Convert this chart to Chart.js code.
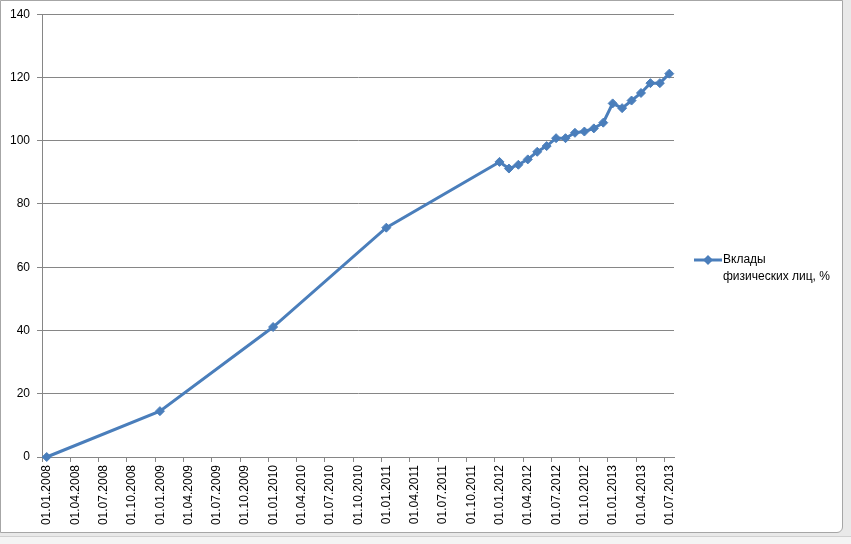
<!DOCTYPE html>
<html>
<head>
<meta charset="utf-8">
<script src="https://cdn.jsdelivr.net/npm/chart.js@4"></script>
<style>
  html, body { margin: 0; padding: 0; background: #ffffff; }
  #wrap { position: relative; width: 851px; height: 544px; background: #e9e9e9; overflow: hidden; }
  #frame { position: absolute; left: 0; top: 0; width: 841px; height: 531px; background: #fff;
           border: 1px solid #a6a6a6; border-radius: 0 0 6px 0; }
  #sheet { position: absolute; left: 0; top: 536px; width: 851px; height: 8px; background: #f4f4f4;
           border-top: 1px solid #d0d0d0; }
  canvas { position: absolute; left: 0; top: 0; }
</style>
</head>
<body>
<div id="wrap">
  <div id="sheet"></div>
  <div id="frame"></div>
  <canvas id="grafico" width="851" height="544"></canvas>
</div>
<script>
// Даты наблюдений и значения (вклады физических лиц, %)
var fechas = ['01.01.2008', '01.01.2009', '01.01.2010', '01.01.2011',
    '01.01.2012', '01.02.2012', '01.03.2012', '01.04.2012', '01.05.2012', '01.06.2012',
    '01.07.2012', '01.08.2012', '01.09.2012', '01.10.2012', '01.11.2012', '01.12.2012',
    '01.01.2013', '01.02.2013', '01.03.2013', '01.04.2013', '01.05.2013', '01.06.2013', '01.07.2013'];
var valores = [0, 14.5, 41.1, 72.5,
    93.3, 91.2, 92.4, 94.1, 96.5, 98.3,
    100.8, 100.8, 102.5, 102.9, 103.9, 105.7,
    111.8, 110.3, 112.7, 115.1, 118.2, 118.2, 121.2];
var etiquetasX = ['01.01.2008', '01.04.2008', '01.07.2008', '01.10.2008',
    '01.01.2009', '01.04.2009', '01.07.2009', '01.10.2009',
    '01.01.2010', '01.04.2010', '01.07.2010', '01.10.2010',
    '01.01.2011', '01.04.2011', '01.07.2011', '01.10.2011',
    '01.01.2012', '01.04.2012', '01.07.2012', '01.10.2012',
    '01.01.2013', '01.04.2013', '01.07.2013'];
var etiquetasY = [0, 20, 40, 60, 80, 100, 120, 140];
var nombreSerie = ['Вклады', 'физических лиц, %'];

var azul = '#4a7ebb';
var gris = '#868686';

// mes desde 01.2008
function mesIndice(f) {
    var p = f.split('.');
    return (parseInt(p[2], 10) - 2008) * 12 + parseInt(p[1], 10) - 1;
}

var puntos = fechas.map(function (f, i) { return { x: mesIndice(f), y: valores[i] }; });
var ultimoMes = mesIndice(etiquetasX[etiquetasX.length - 1]);

// leyenda a la derecha, en dos lineas
var leyenda = {
    id: 'leyenda',
    afterDraw: function (chart) {
        var ctx = chart.ctx;
        ctx.save();
        ctx.strokeStyle = azul;
        ctx.lineWidth = 3;
        ctx.beginPath();
        ctx.moveTo(694, 260);
        ctx.lineTo(722, 260);
        ctx.stroke();
        ctx.fillStyle = azul;
        ctx.beginPath();
        ctx.moveTo(708, 255);
        ctx.lineTo(713, 260);
        ctx.lineTo(708, 265);
        ctx.lineTo(703, 260);
        ctx.closePath();
        ctx.fill();
        ctx.fillStyle = '#000';
        ctx.font = '12px "Liberation Sans", Arial, sans-serif';
        ctx.textBaseline = 'middle';
        ctx.fillText(nombreSerie[0], 723, 260);
        ctx.fillText(nombreSerie[1], 723, 277);
        ctx.restore();
    }
};

Chart.defaults.font.family = '"Liberation Sans", Arial, sans-serif';
Chart.defaults.font.size = 12;
Chart.defaults.color = '#000';

var grafico = new Chart(document.getElementById('grafico'), {
    type: 'line',
    data: {
        datasets: [{
            label: nombreSerie.join(' '),
            data: puntos,
            borderColor: azul,
            backgroundColor: azul,
            borderWidth: 3,
            pointStyle: 'rectRot',
            pointRadius: 4.5,
            pointBorderWidth: 1,
            tension: 0,
            clip: false
        }]
    },
    options: {
        responsive: false,
        animation: false,
        layout: { padding: { left: 0, top: 14, right: 177, bottom: 0 } },
        plugins: {
            legend: { display: false },
            tooltip: { enabled: false }
        },
        scales: {
            x: {
                type: 'linear',
                min: -0.5,
                max: ultimoMes + 0.5,
                afterBuildTicks: function (scale) {
                    scale.ticks = etiquetasX.map(function (e) { return { value: mesIndice(e) - 0.5 }; });
                },
                afterFit: function (scale) { scale.height = 87; },
                border: { color: gris, width: 1 },
                grid: { drawOnChartArea: false, color: gris, tickLength: 5 },
                ticks: {
                    autoSkip: false,
                    minRotation: 90,
                    maxRotation: 90,
                    padding: 3,
                    labelOffset: 5,
                    callback: function (v, i) { return etiquetasX[i]; }
                }
            },
            y: {
                min: 0,
                max: 140,
                afterBuildTicks: function (scale) {
                    scale.ticks = etiquetasY.map(function (v) { return { value: v }; });
                },
                afterFit: function (scale) { scale.width = 42; },
                border: { color: gris, width: 1 },
                grid: { color: gris, tickLength: 5 },
                ticks: { padding: 7 }
            }
        }
    },
    plugins: [leyenda]
});
</script>
</body>
</html>
